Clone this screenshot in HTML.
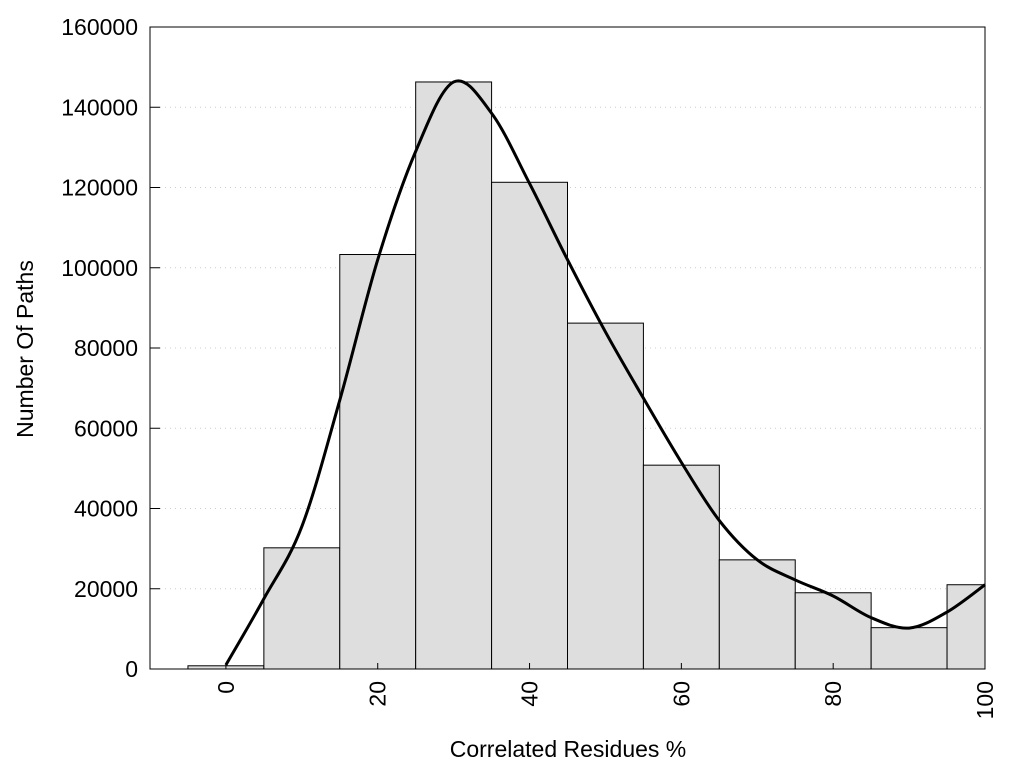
<!DOCTYPE html>
<html><head><meta charset="utf-8"><style>
body{margin:0;background:#fff;}
svg{display:block;font-family:"Liberation Sans",sans-serif;}
</style></head><body>
<svg id="chart" width="1024" height="768">
<g id="grid"></g><g id="bars"></g><g id="curve"></g><g id="axes"></g>
</svg>
<script>
const binCenters=[0,10,20,30,40,50,60,70,80,90,100];
const binCounts=[800,30200,103300,146300,121300,86200,50800,27200,19000,10300,21000];
const curveX=[0,5,10,15,20,25,30,35,40,45,50,55,60,65,70,75,80,85,90,95,100];
const curveY=[1000,17500,35500,67000,102000,129000,146300,138500,121000,102000,84000,67500,51500,37000,27200,22200,18200,12800,10200,14200,21000];
const yTicks=[0,20000,40000,60000,80000,100000,120000,140000,160000];
const xTicks=[0,20,40,60,80,100];
const L=150,R=985,T=27,B=669,xMin=-10,xMax=100,yMax=160000;
const sx=v=>L+(v-xMin)/(xMax-xMin)*(R-L);
const sy=v=>B-v/yMax*(B-T);
const NS="http://www.w3.org/2000/svg";
function mk(tag,attrs,parent){const e=document.createElementNS(NS,tag);for(const k in attrs)e.setAttribute(k,attrs[k]);document.getElementById(parent).appendChild(e);return e;}
yTicks.forEach(t=>{
 if(t>0&&t<yMax){const g=mk('line',{x1:L+10,x2:R,y1:sy(t),y2:sy(t),stroke:'#ccc','stroke-dasharray':'1 4'},'grid');
 
 }
 const tk=mk('line',{x1:L,x2:L+10,y1:sy(t),y2:sy(t),stroke:'#000'},'axes');
 
 
 const tx=mk('text',{x:138,y:sy(t)+8,'text-anchor':'end','font-size':23},'axes');tx.textContent=t;
 
 
});
const bw=sx(5)-sx(0);
binCenters.forEach((c,i)=>{
 const x0=sx(c)-bw,x1=Math.min(sx(c)+bw,R);
 const r=mk('rect',{x:x0,y:sy(binCounts[i]),width:x1-x0,height:B-sy(binCounts[i]),fill:'#dedede',stroke:'#000','stroke-width':1},'bars');
 
 
});
const pts=curveX.map((x,i)=>[sx(x),sy(curveY[i])]);
let d='M'+pts[0][0]+','+pts[0][1];
for(let i=0;i<pts.length-1;i++){
 const p0=pts[Math.max(i-1,0)],p1=pts[i],p2=pts[i+1],p3=pts[Math.min(i+2,pts.length-1)];
 d+=' C'+(p1[0]+(p2[0]-p0[0])/6)+','+(p1[1]+(p2[1]-p0[1])/6)+' '+(p2[0]-(p3[0]-p1[0])/6)+','+(p2[1]-(p3[1]-p1[1])/6)+' '+p2[0]+','+p2[1];
}
const cv=mk('path',{d:d,fill:'none',stroke:'#000','stroke-width':3},'curve');


xTicks.forEach(t=>{
 const tk=mk('line',{x1:sx(t),x2:sx(t),y1:B,y2:B-6,stroke:'#000'},'axes');
 
 
 const tx=mk('text',{x:0,y:0,'text-anchor':'end','font-size':23,transform:'translate('+(sx(t)+8)+','+(B+12)+') rotate(-90)'},'axes');tx.textContent=t;
 
 
});
const fr=mk('rect',{x:L,y:T,width:R-L,height:B-T,fill:'none',stroke:'#000','stroke-width':1},'axes');


const xt=mk('text',{x:568,y:757,'text-anchor':'middle','font-size':23},'axes');xt.textContent='Correlated Residues %';


const yt=mk('text',{x:0,y:0,'text-anchor':'middle','font-size':23,transform:'translate(33,349) rotate(-90)'},'axes');yt.textContent='Number Of Paths';


</script>
</body></html>
